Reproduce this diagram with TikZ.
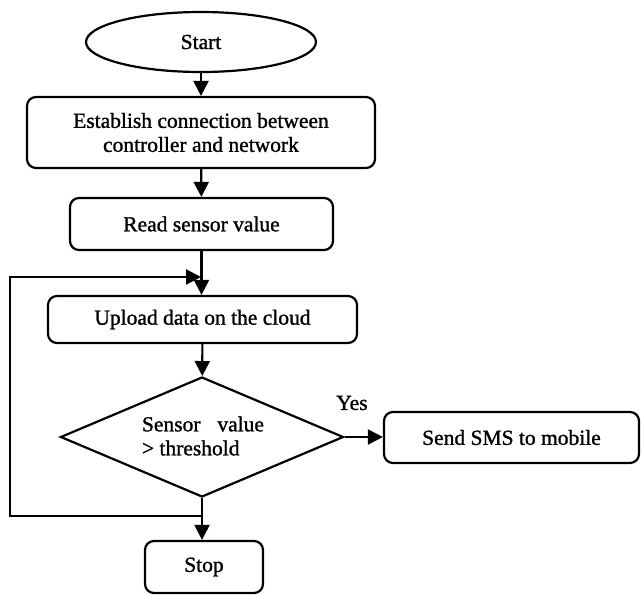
\documentclass[tikz,border=0pt]{standalone}
\usepackage{fontspec}
\setmainfont{Liberation Serif}[FakeBold=1.2]
\usetikzlibrary{shapes.geometric,arrows.meta}
\begin{document}
\begin{tikzpicture}[x=1pt,y=-1pt,
  every node/.style={font=\fontsize{21.5}{24}\selectfont},
  box/.style={draw,line width=2.2pt,rounded corners=9pt,inner sep=0pt,align=center},
  term/.style={draw,ellipse,line width=2.2pt,inner sep=0pt},
  dia/.style={draw,diamond,line width=2.2pt,inner sep=0pt},
  arr/.style={line width=2.2pt,-{Triangle[length=15pt,width=15pt]}},
  plain/.style={line width=2.2pt}]
\useasboundingbox (0,0) rectangle (641,595);
\node[term,minimum width=230pt,minimum height=60pt] (start) at (201,42) {Start};
\node[box,minimum width=348pt,minimum height=71pt] (conn) at (201,132.5) {Establish connection between\\controller and network};
\node[box,minimum width=263pt,minimum height=52pt] (read) at (201.5,224) {Read sensor value};
\node[box,minimum width=309pt,minimum height=47pt] (upload) at (202.5,319.5) {Upload data on the cloud};
\node[dia,minimum width=283pt,minimum height=120pt] (dec) at (202,437) {};
\node[align=left,inner sep=0pt] (dect) at (203,436) {\makebox[122pt][s]{Sensor value}\\> threshold};
\node[box,minimum width=118pt,minimum height=52pt] (stop) at (204,567) {Stop};
\node[box,minimum width=255pt,minimum height=51pt] (sms) at (511.5,437.5) {Send SMS to mobile};
\node[inner sep=0pt] (yes) at (352,403) {Yes};
\coordinate (j1) at (201,277);
\coordinate (j2) at (202,516);
\coordinate (lt) at (10,277);
\coordinate (lb) at (10,516);
\draw[arr] (start) -- (conn);
\draw[arr] (conn) -- (read);
\draw[arr] (read.south) -- (read.south |- upload.north);
\draw[arr] (upload) -- (dec);
\draw[arr] (dec) -- (dec.south |- stop.north);
\draw[arr] (dec.east) -- (dec.east -| sms.west);
\draw[arr] (j2) -- (lb) -- (lt) -- (j1);
\end{tikzpicture}
\end{document}
